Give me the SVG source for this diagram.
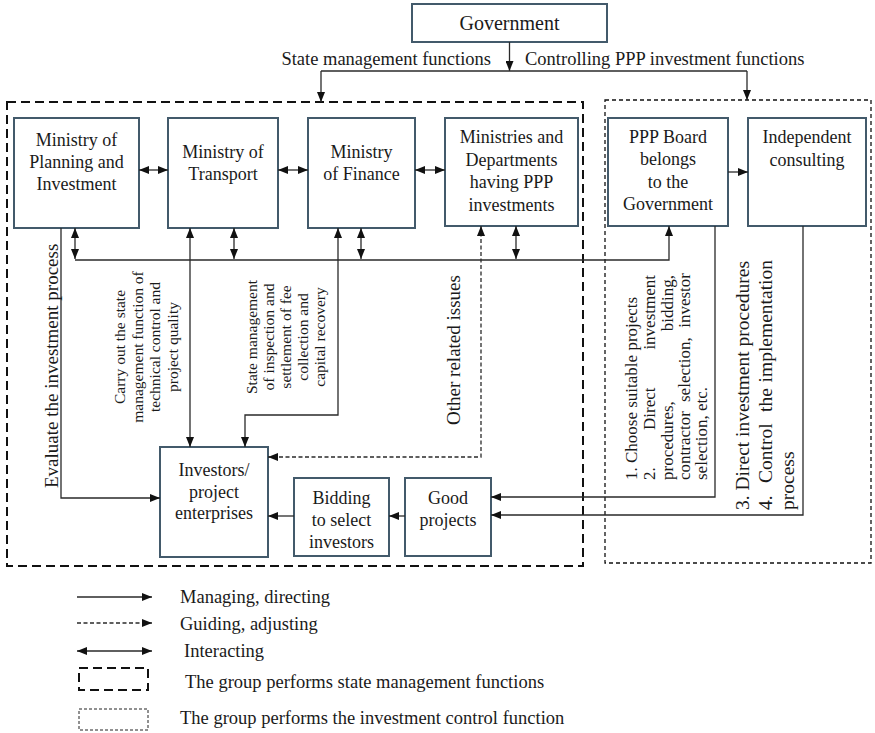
<svg xmlns="http://www.w3.org/2000/svg" width="875" height="733" viewBox="0 0 875 733">
<style>
.bg{fill:#fff}
.box{fill:#fff;stroke:#435a6b;stroke-width:2}
.t{font-family:"Liberation Serif","Times New Roman",serif;fill:#1a1a1a}
.b18{font-size:18px;text-anchor:middle}
.ln{fill:none;stroke:#2a2a2a;stroke-width:1.3}
.dash{stroke-dasharray:4,2.5}
.g1{fill:none;stroke:#111;stroke-width:2;stroke-dasharray:9,5}
.g2{fill:none;stroke:#111;stroke-width:1.3;stroke-dasharray:4,3}
.lg{font-size:18.5px}
</style>
<defs>
<marker id="ah" viewBox="0 0 10 8" refX="10" refY="4" markerWidth="10" markerHeight="8" markerUnits="userSpaceOnUse" orient="auto-start-reverse">
<path d="M0,0 L10,4 L0,8 z" fill="#111"/>
</marker>
</defs>
<rect class="bg" x="0" y="0" width="875" height="733"/>

<g id="groups">
<rect class="g1" x="7" y="102" width="576" height="464"/>
<rect class="g2" x="605" y="100" width="266" height="463"/>
</g>

<g id="government">
<rect class="box" x="412" y="4" width="195" height="38"/>
<text class="t" x="509.5" y="30" font-size="20" text-anchor="middle">Government</text>
</g>

<g id="labels-top">
<text class="t" x="491" y="65" font-size="18.5" text-anchor="end">State management functions</text>
<text class="t" x="525" y="65" font-size="18.5">Controlling PPP investment functions</text>
</g>

<g id="mpi">
<rect class="box" x="14" y="118" width="125" height="110"/>
<text class="t b18"><tspan x="76.5" y="146">Ministry of</tspan><tspan x="76.5" y="168">Planning and</tspan><tspan x="76.5" y="190">Investment</tspan></text>
</g>
<g id="transport">
<rect class="box" x="168" y="118" width="110" height="110"/>
<text class="t b18"><tspan x="223" y="158">Ministry of</tspan><tspan x="223" y="180">Transport</tspan></text>
</g>
<g id="finance">
<rect class="box" x="308" y="118" width="107" height="110"/>
<text class="t b18"><tspan x="361.5" y="158">Ministry</tspan><tspan x="361.5" y="180">of Finance</tspan></text>
</g>
<g id="ministries">
<rect class="box" x="445" y="118" width="133" height="108"/>
<text class="t b18"><tspan x="511.5" y="143">Ministries and</tspan><tspan x="511.5" y="166">Departments</tspan><tspan x="511.5" y="188">having PPP</tspan><tspan x="511.5" y="211">investments</tspan></text>
</g>
<g id="pppboard">
<rect class="box" x="608" y="118" width="120" height="108"/>
<text class="t b18"><tspan x="668" y="143">PPP Board</tspan><tspan x="668" y="165">belongs</tspan><tspan x="668" y="188">to the</tspan><tspan x="668" y="210">Government</tspan></text>
</g>
<g id="consulting">
<rect class="box" x="748" y="118" width="118" height="108"/>
<text class="t b18"><tspan x="807" y="143">Independent</tspan><tspan x="807" y="166">consulting</tspan></text>
</g>
<g id="investors">
<rect class="box" x="160" y="447" width="108" height="110"/>
<text class="t b18"><tspan x="214" y="476">Investors/</tspan><tspan x="214" y="498">project</tspan><tspan x="214" y="519">enterprises</tspan></text>
</g>
<g id="bidding">
<rect class="box" x="294" y="478" width="95" height="78"/>
<text class="t b18"><tspan x="341.5" y="504">Bidding</tspan><tspan x="341.5" y="526">to select</tspan><tspan x="341.5" y="548">investors</tspan></text>
</g>
<g id="goodprojects">
<rect class="box" x="405" y="478" width="86" height="78"/>
<text class="t b18"><tspan x="448" y="504">Good</tspan><tspan x="448" y="526">projects</tspan></text>
</g>

<g id="connectors">
<path class="ln" d="M509.5,42 V71" marker-end="url(#ah)"/>
<path class="ln" d="M321,71 H747"/>
<path class="ln" d="M321,71 V102" marker-end="url(#ah)"/>
<path class="ln" d="M747,71 V100" marker-end="url(#ah)"/>

<path class="ln" d="M139,170 H168" marker-start="url(#ah)" marker-end="url(#ah)"/>
<path class="ln" d="M278,170 H308" marker-start="url(#ah)" marker-end="url(#ah)"/>
<path class="ln" d="M415,170 H445" marker-start="url(#ah)" marker-end="url(#ah)"/>
<path class="ln" d="M728,172 H748" marker-end="url(#ah)"/>

<path class="ln" d="M75,260 H669 V226" marker-end="url(#ah)"/>
<path class="ln" d="M75,228 V259" marker-start="url(#ah)" marker-end="url(#ah)"/>
<path class="ln" d="M234,228 V259" marker-start="url(#ah)" marker-end="url(#ah)"/>
<path class="ln" d="M361,228 V259" marker-start="url(#ah)" marker-end="url(#ah)"/>
<path class="ln" d="M516,226 V259" marker-start="url(#ah)" marker-end="url(#ah)"/>

<path class="ln" d="M61,228 V498 H160" marker-end="url(#ah)"/>
<path class="ln" d="M190,228 V447" marker-start="url(#ah)" marker-end="url(#ah)"/>
<path class="ln" d="M338,228 V415 H245 V447" marker-start="url(#ah)" marker-end="url(#ah)"/>
<path class="ln dash" d="M481,226 V457 H268" marker-start="url(#ah)" marker-end="url(#ah)"/>

<path class="ln" d="M405,516 H389" marker-end="url(#ah)"/>
<path class="ln" d="M294,516 H268" marker-end="url(#ah)"/>
<path class="ln" d="M715,226 V497 H491" marker-end="url(#ah)"/>
<path class="ln" d="M803,226 V515 H491" marker-end="url(#ah)"/>
</g>

<g id="connector-labels">
<text class="t" font-size="19" transform="translate(58,488) rotate(-90)">Evaluate the investment process</text>
<text class="t" font-size="15.5" text-anchor="middle" transform="translate(0,347) rotate(-90)"><tspan x="0" y="125">Carry out the state</tspan><tspan x="0" y="142.5">management function of</tspan><tspan x="0" y="160">technical control and</tspan><tspan x="0" y="177.5">project quality</tspan></text>
<text class="t" font-size="15.5" text-anchor="middle" transform="translate(0,337) rotate(-90)"><tspan x="0" y="256.5">State management</tspan><tspan x="0" y="274">of inspection and</tspan><tspan x="0" y="291">settlement of fee</tspan><tspan x="0" y="308">collection and</tspan><tspan x="0" y="324.5">capital recovery</tspan></text>
<text class="t" font-size="19" text-anchor="middle" transform="translate(460,350) rotate(-90)">Other related issues</text>
<g transform="translate(0,480) rotate(-90)">
<text class="t" font-size="17" x="0" y="637">1. Choose suitable projects</text>
<text class="t" font-size="17" x="0" y="655">2.</text>
<text class="t" font-size="17" x="50" y="655">Direct</text>
<text class="t" font-size="17" x="205" y="655" text-anchor="end">investment</text>
<text class="t" font-size="17" x="0" y="673">procedures,</text>
<text class="t" font-size="17" x="205" y="673" text-anchor="end">bidding,</text>
<text class="t" font-size="17" x="0" y="690">contractor</text>
<text class="t" font-size="17" x="78" y="690">selection,</text>
<text class="t" font-size="17" x="207" y="690" text-anchor="end">investor</text>
<text class="t" font-size="17" x="0" y="707">selection, etc.</text>
</g>
<g transform="translate(0,510) rotate(-90)">
<text class="t" font-size="19.5" x="0" y="749">3. Direct investment procedures</text>
<text class="t" font-size="19.5" x="0" y="772">4.</text>
<text class="t" font-size="19.5" x="27" y="772">Control</text>
<text class="t" font-size="19.5" x="98" y="772">the</text>
<text class="t" font-size="19.5" x="250" y="772" text-anchor="end">implementation</text>
<text class="t" font-size="19.5" x="0" y="794">process</text>
</g>
</g>

<g id="legend">
<path class="ln" d="M77,597 H152" marker-end="url(#ah)"/>
<text class="t lg" x="180" y="603">Managing, directing</text>
<path class="ln dash" d="M77,623 H152" marker-end="url(#ah)"/>
<text class="t lg" x="180" y="630">Guiding, adjusting</text>
<path class="ln" d="M77,651 H152" marker-start="url(#ah)" marker-end="url(#ah)"/>
<text class="t lg" x="184" y="657">Interacting</text>
<rect class="g1" x="79" y="668" width="69" height="22"/>
<text class="t lg" x="185" y="688">The group performs state management functions</text>
<rect x="79" y="709" width="69" height="21" fill="none" stroke="#222" stroke-width="1" stroke-dasharray="3,2"/>
<text class="t lg" x="180" y="724">The group performs the investment control function</text>
</g>
</svg>
